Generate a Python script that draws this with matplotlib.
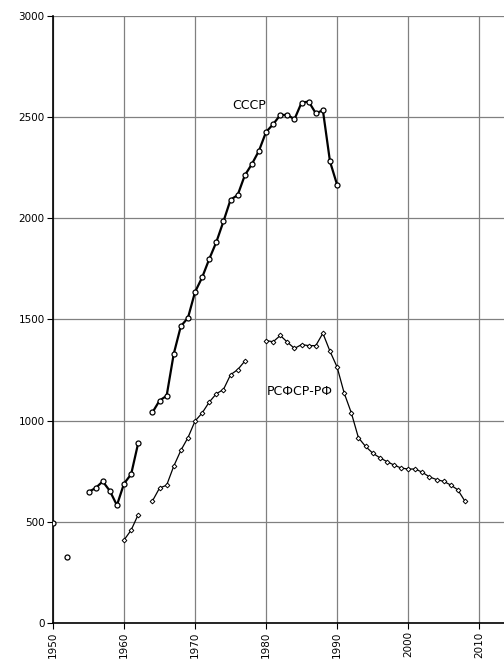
import matplotlib
matplotlib.use("Agg")
import matplotlib.pyplot as plt
import numpy as np

# --- Data (NaN = gap in the series) ---
ussr_years = [1950, 1951, 1952, 1953, 1954, 1955, 1956, 1957, 1958, 1959,
              1960, 1961, 1962, 1963, 1964, 1965, 1966, 1967, 1968, 1969,
              1970, 1971, 1972, 1973, 1974, 1975, 1976, 1977, 1978, 1979,
              1980, 1981, 1982, 1983, 1984, 1985, 1986, 1987, 1988, 1989,
              1990]
ussr_values = [495, np.nan, 327, np.nan, np.nan, 648, 667, 700, 653, 582,
               689, 735, 890, np.nan, 1041, 1099, 1123, 1330, 1467, 1508,
               1636, 1708, 1799, 1883, 1985, 2092, 2115, 2212, 2268, 2334,
               2427, 2465, 2511, 2511, 2490, 2572, 2577, 2519, 2534, 2281,
               2166]

rsfsr_years = list(range(1960, 2009))
rsfsr_values = [410, 459, 536, np.nan, 603, 667, 681, 775, 853, 916,
                998, 1038, 1092, 1133, 1154, 1227, 1252, 1294, np.nan, np.nan,
                1396, 1390, 1421, 1388, 1357, 1376, 1371, 1371, 1432, 1343,
                1265, 1136, 1039, 916, 873, 840, 817, 798, 781, 766,
                761, 761, 745, 722, 709, 700, 682, 658, 602]

x_ticks = [1950, 1960, 1970, 1980, 1990, 2000, 2010]
y_ticks = [0, 500, 1000, 1500, 2000, 2500, 3000]

fig = plt.figure(figsize=(5.04, 6.66), dpi=100)
ax = fig.add_axes([53 / 504, 1 - 623 / 666, 1 - 53 / 504, (623 - 16) / 666])

ax.plot(ussr_years, ussr_values, color="black", lw=1.6, marker="o",
        ms=3.6, mfc="white", mec="black", mew=0.9, zorder=3)
ax.plot(rsfsr_years, rsfsr_values, color="black", lw=0.9, marker="D",
        ms=2.4, mfc="white", mec="black", mew=0.7, zorder=3)

ax.text(1977.6, 2560, "СССР", fontsize=9, ha="center", va="center")
ax.text(1980.1, 1145, "РСФСР-РФ", fontsize=9, ha="left", va="center")

ax.set_xlim(1950, 2013.5)
ax.set_ylim(0, 3000)
ax.set_xticks(x_ticks)
ax.set_yticks(y_ticks)
ax.set_xticklabels([str(t) for t in x_ticks], rotation=90, fontsize=7.5)
ax.set_yticklabels([str(t) for t in y_ticks], fontsize=7.5)
ax.tick_params(direction="out", length=4, width=0.8, pad=2)

ax.grid(True, color="#808080", lw=0.9)
ax.set_axisbelow(True)
for s in ["top", "right"]:
    ax.spines[s].set_visible(False)
for s in ["left", "bottom"]:
    ax.spines[s].set_linewidth(1.2)
    ax.spines[s].set_zorder(2.5)

fig.savefig("out.png", dpi=100)
